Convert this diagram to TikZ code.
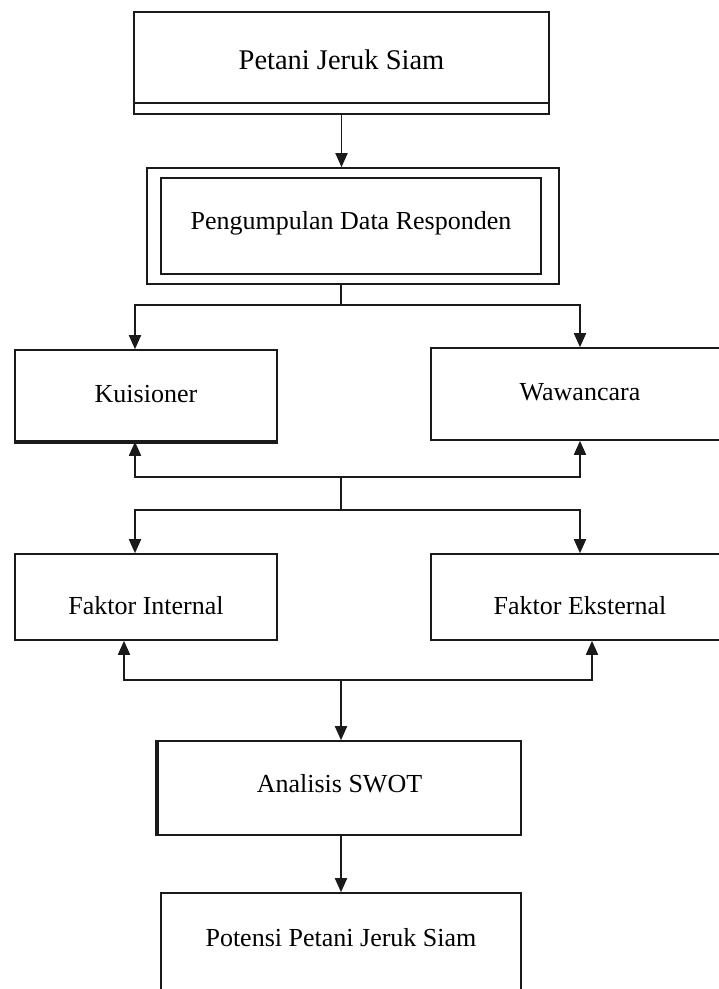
\documentclass[tikz,border=0pt]{standalone}
\usepackage{fontspec}
\setmainfont{Liberation Serif}
\usepackage{xcolor}
\usepackage{tikz}
\usetikzlibrary{arrows.meta,calc}
\definecolor{inkline}{HTML}{1A1A1A}

\begin{document}
\begin{tikzpicture}[
    box/.style={rectangle, draw=inkline, line width=0.45pt, inner sep=0pt, fill=white, text height=1.8mm, text depth=0.5mm, font=\fontsize{7.4pt}{9pt}\selectfont},
    arr/.style={-{Triangle[width=1.2mm,length=1.4mm]}, draw=inkline, line width=0.5pt},
    link/.style={draw=inkline, line width=0.5pt}
]
\useasboundingbox (0,0) rectangle (7.19,-9.89);

% ---- TOP ----
\node[box, minimum width=4.15cm, minimum height=1.02cm, font=\fontsize{8.1pt}{10pt}\selectfont] (petani) at (3.415,-0.63) {Petani Jeruk Siam};
\draw[link] ([yshift=1.2mm]petani.south west) -- ([yshift=1.2mm]petani.south east);

\node[box, minimum width=4.12cm, minimum height=1.16cm] (kumpulout) at (3.53,-2.26) {};
\node[box, minimum width=3.80cm, minimum height=0.96cm, text depth=1.2mm] (kumpul) at (3.51,-2.26) {Pengumpulan Data Responden};
\draw[arr] (petani.south) -- (petani.south |- kumpulout.north);

% ---- METHODS ----
\coordinate (b1) at (3.41,-3.05);
\node[box, minimum width=2.62cm, minimum height=0.91cm] (kuis) at (1.46,-3.955) {Kuisioner};
\node[box, minimum width=2.98cm, minimum height=0.92cm] (wawan) at (5.80,-3.94) {Wawancara};
\draw[line width=1.2pt, inkline] (kuis.south west) -- (kuis.south east);
\draw[link] (b1 |- kumpulout.south) -- (b1);
\draw[arr] (b1) -| ([xshift=-1.1mm]kuis.north);
\draw[arr] (b1) -| (wawan.north);

% ---- FACTORS ----
\coordinate (b2) at (3.41,-4.77);
\coordinate (b3) at (3.41,-5.10);
\node[box, minimum width=2.62cm, minimum height=0.86cm, text height=3.9mm] (fint) at (1.46,-5.97) {Faktor Internal};
\node[box, minimum width=2.98cm, minimum height=0.86cm, text height=3.9mm] (feks) at (5.80,-5.97) {Faktor Eksternal};
\draw[arr] (b2) -| ([xshift=-1.1mm]kuis.south);
\draw[arr] (b2) -| (wawan.south);
\draw[link] (b2) -- (b3);
\draw[arr] (b3) -| ([xshift=-1.1mm]fint.north);
\draw[arr] (b3) -| (feks.north);

% ---- RESULT ----
\coordinate (b4) at (3.41,-6.80);
\node[box, minimum width=3.63cm, minimum height=0.94cm, text depth=1.0mm] (swot) at (3.395,-7.88) {Analisis SWOT};
\draw[line width=1.2pt, inkline] (swot.south west) -- (swot.north west);
\node[box, minimum width=3.60cm, minimum height=1.10cm, text depth=2.2mm] (potensi) at (3.41,-9.48) {Potensi Petani Jeruk Siam};
\draw[arr] (b4) -| ([xshift=-2.2mm]fint.south);
\draw[arr] (b4) -| ([xshift=1.2mm]feks.south);
\draw[arr] (b4) -- (b4 |- swot.north);
\draw[arr] (swot.south -| b4) -- (b4 |- potensi.north);
\end{tikzpicture}
\end{document}
